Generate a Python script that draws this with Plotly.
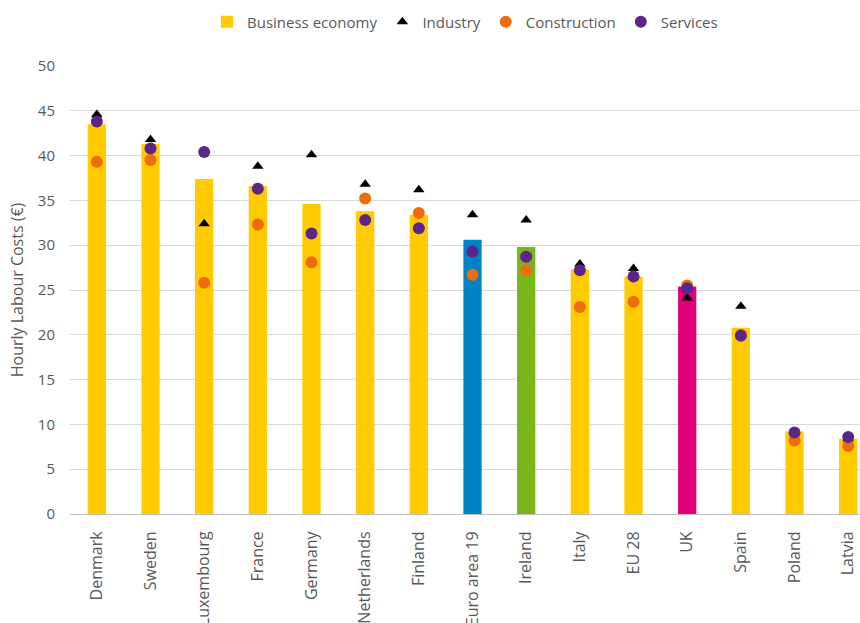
import plotly.graph_objects as go

# Hourly labour costs by country and sector (EUR)
countries = ["Denmark", "Sweden", "Luxembourg", "France", "Germany", "Netherlands",
             "Finland", "Euro area 19", "Ireland", "Italy", "EU 28", "UK",
             "Spain", "Poland", "Latvia"]
business_economy = [43.5, 41.3, 37.4, 36.6, 34.6, 33.8, 33.4, 30.6, 29.8, 27.3, 26.5, 25.4, 20.8, 9.2, 8.4]
industry = [44.6, 41.8, 32.4, 38.8, 40.1, 36.8, 36.2, 33.4, 32.8, 27.9, 27.4, 24.1, 23.2, 8.4, 8.4]
construction = [39.3, 39.5, 25.8, 32.3, 28.1, 35.2, 33.6, 26.7, 27.2, 23.1, 23.7, 25.5, 20.0, 8.2, 7.6]
services = [43.8, 40.8, 40.4, 36.3, 31.3, 32.8, 31.9, 29.3, 28.7, 27.2, 26.5, 25.2, 19.9, 9.1, 8.6]

YELLOW = "#FFCB00"
highlight = {"Euro area 19": "#0082C8", "Ireland": "#7AB51D", "UK": "#E2007A"}
bar_colors = [highlight.get(c, YELLOW) for c in countries]

font_family = "Open Sans, Liberation Sans, sans-serif"
grey_text = "#595959"

fig = go.Figure()
fig.add_trace(go.Bar(
    x=countries, y=business_economy, name="Business economy",
    marker=dict(color=bar_colors, line=dict(width=0)),
    width=0.34,
))
fig.add_trace(go.Scatter(
    x=countries, y=industry, name="Industry", mode="markers",
    marker=dict(symbol="triangle-up", size=10, color="#000000"),
))
fig.add_trace(go.Scatter(
    x=countries, y=construction, name="Construction", mode="markers",
    marker=dict(symbol="circle", size=12, color="#EE6C0B"),
))
fig.add_trace(go.Scatter(
    x=countries, y=services, name="Services", mode="markers",
    marker=dict(symbol="circle", size=12, color="#5B2688"),
))

fig.update_layout(
    width=860, height=623,
    margin=dict(l=70, r=0, t=66, b=109, autoexpand=False),
    paper_bgcolor="white", plot_bgcolor="white",
    font=dict(family=font_family, size=15, color=grey_text),
    showlegend=True,
    legend=dict(
        orientation="h", x=0.5, xanchor="center",
        y=1 - 22 / 623, yanchor="middle", yref="container",
        itemwidth=30,
        font=dict(size=15, color=grey_text),
        traceorder="normal",
    ),
    xaxis=dict(
        type="category", range=[-0.5, 14.22],
        tickangle=-90, showgrid=False, ticks="",
        showline=True, linecolor="#BFBFBF", linewidth=1,
        tickfont=dict(size=16, color=grey_text),
        automargin=False, ticklabelstandoff=10,
    ),
    yaxis=dict(
        range=[0, 50], tick0=0, dtick=5,
        showgrid=True, gridcolor="#D9D9D9", gridwidth=1,
        zeroline=False, showline=False, ticks="",
        tickfont=dict(size=15, color=grey_text),
        ticklabelstandoff=14,
        title=dict(text="Hourly Labour Costs (€)", font=dict(size=16, color=grey_text), standoff=10),
        automargin=False,
    ),
)

fig.write_html("out.html")
